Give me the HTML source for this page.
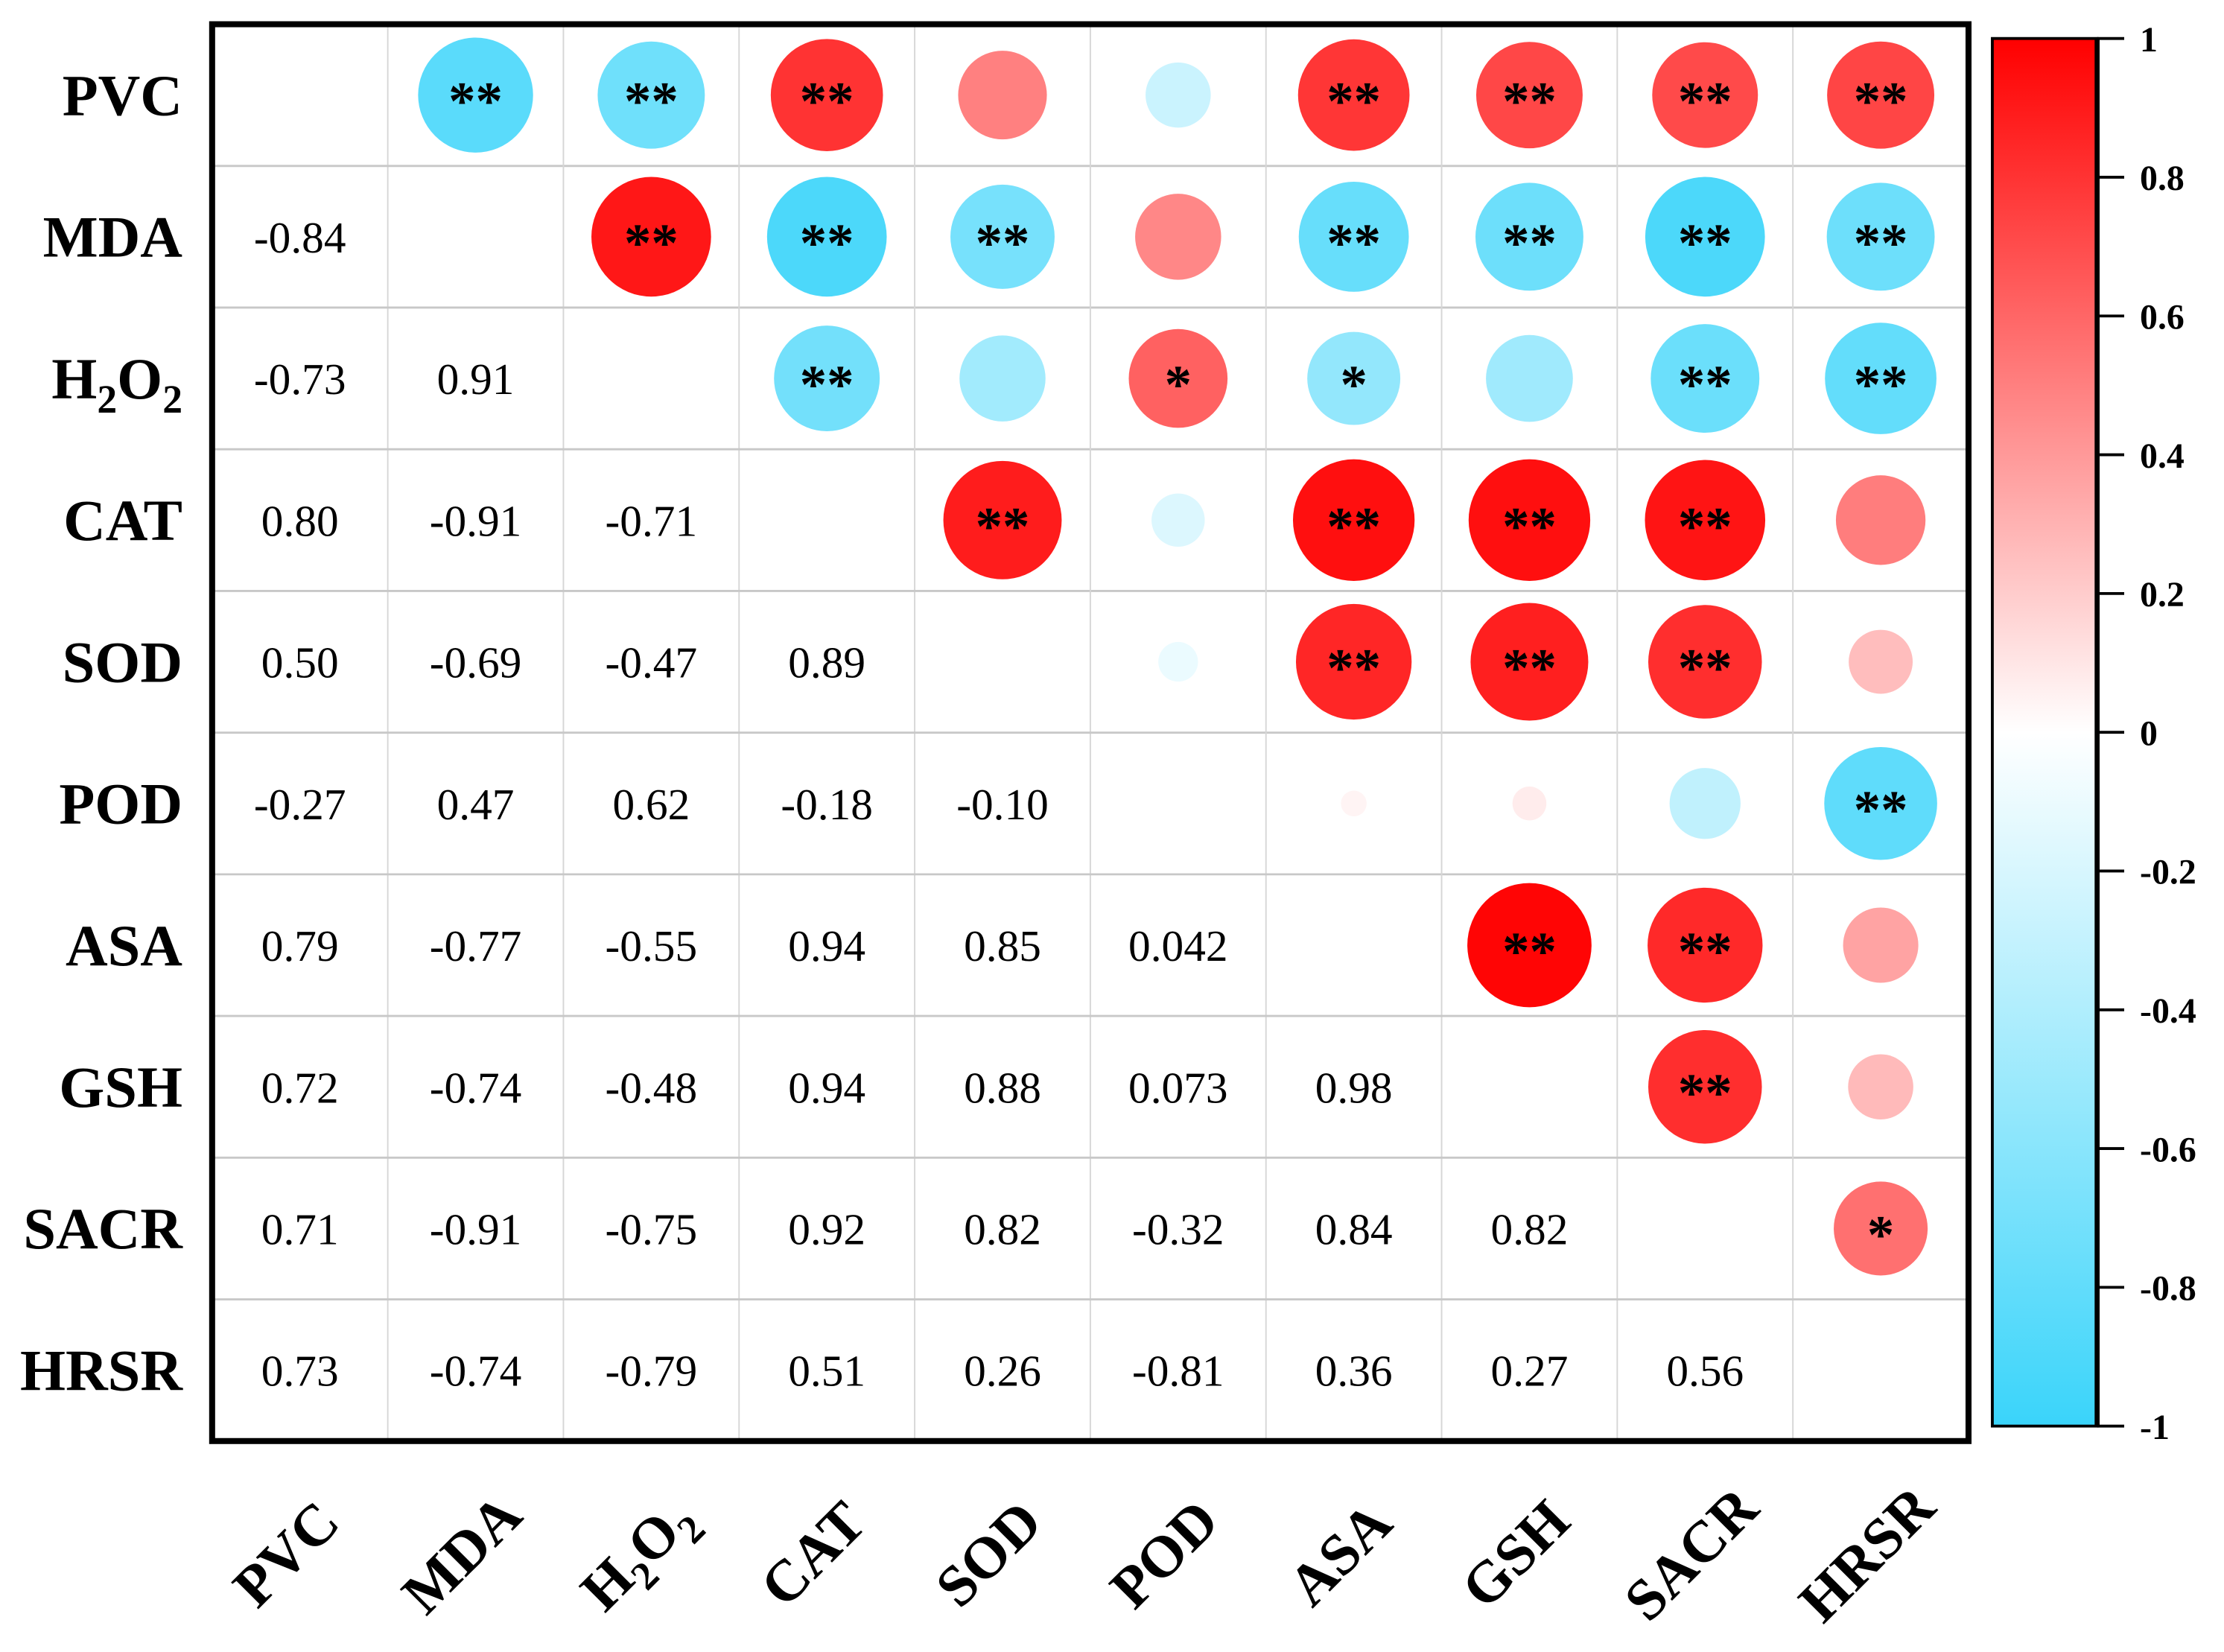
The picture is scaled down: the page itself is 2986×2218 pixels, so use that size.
<!DOCTYPE html>
<html><head><meta charset="utf-8"><style>
html,body{margin:0;padding:0;background:#fff;}
svg{display:block;}
text{font-family:"Liberation Serif",serif;}
</style></head><body>
<svg id="chart" width="2986" height="2218" viewBox="0 0 1560 1159" preserveAspectRatio="none" xmlns="http://www.w3.org/2000/svg">
<defs>
<linearGradient id="cbgrad" x1="0" y1="0" x2="0" y2="1">
<stop offset="0" stop-color="#ff0000"/>
<stop offset="0.5" stop-color="#ffffff"/>
<stop offset="1" stop-color="#3ad4fa"/>
</linearGradient>
</defs>
<g id="grid"></g>
<g id="marks"></g>
<g id="labels"></g>
<rect x="148.8" y="17" width="1232" height="994" fill="none" stroke="#000" stroke-width="4.2"/>
<g id="colorbar">
<rect x="1397.5" y="27" width="73.5" height="973.5" fill="url(#cbgrad)" stroke="#000" stroke-width="2"/>
<line x1="1471" y1="27" x2="1471" y2="1000.5" stroke="#000" stroke-width="3.5"/>
</g>
</svg>
<script>
const labels = ["PVC","MDA","H2O2","CAT","SOD","POD","ASA","GSH","SACR","HRSR"];
const lowerValues = [
  [],
  [-0.84],
  [-0.73, 0.91],
  [0.80, -0.91, -0.71],
  [0.50, -0.69, -0.47, 0.89],
  [-0.27, 0.47, 0.62, -0.18, -0.10],
  [0.79, -0.77, -0.55, 0.94, 0.85, 0.042],
  [0.72, -0.74, -0.48, 0.94, 0.88, 0.073, 0.98],
  [0.71, -0.91, -0.75, 0.92, 0.82, -0.32, 0.84, 0.82],
  [0.73, -0.74, -0.79, 0.51, 0.26, -0.81, 0.36, 0.27, 0.56]
];
const valueText = [
  [],
  ["-0.84"],
  ["-0.73","0.91"],
  ["0.80","-0.91","-0.71"],
  ["0.50","-0.69","-0.47","0.89"],
  ["-0.27","0.47","0.62","-0.18","-0.10"],
  ["0.79","-0.77","-0.55","0.94","0.85","0.042"],
  ["0.72","-0.74","-0.48","0.94","0.88","0.073","0.98"],
  ["0.71","-0.91","-0.75","0.92","0.82","-0.32","0.84","0.82"],
  ["0.73","-0.74","-0.79","0.51","0.26","-0.81","0.36","0.27","0.56"]
];
const significance = [
  [],
  ["**"],
  ["**","**"],
  ["**","**","**"],
  ["","**","","**"],
  ["","","*","",""],
  ["**","**","*","**","**",""],
  ["**","**","","**","**","","**"],
  ["**","**","**","**","**","","**","**"],
  ["**","**","**","","","**","","","*"]
];
const cbTicks = [1,0.8,0.6,0.4,0.2,0,-0.2,-0.4,-0.6,-0.8,-1];
const cbTickLabels = ["1","0.8","0.6","0.4","0.2","0","-0.2","-0.4","-0.6","-0.8","-1"];

const NS="http://www.w3.org/2000/svg";
const X0=148.8,Y0=17,CW=123.2,RH=99.4,RMAX=44;
const cx=j=>X0+CW*(j+0.5), cy=i=>Y0+RH*(i+0.5);
const rScale=v=>RMAX*Math.sqrt(Math.abs(v));
const cbY=v=>27+(1-v)/2*973.5;
function color(v){
  const t=Math.max(-1,Math.min(1,v));
  let a=[255,255,255],b,f;
  if(t>=0){b=[255,0,0];f=t;}else{b=[58,212,250];f=-t;}
  const c=a.map((x,k)=>Math.round(x+(b[k]-x)*f));
  return `rgb(${c[0]},${c[1]},${c[2]})`;
}
function mk(tag,attrs,parent){const e=document.createElementNS(NS,tag);for(const k in attrs)e.setAttribute(k,attrs[k]);parent.appendChild(e);return e;}
const grid=document.getElementById('grid'),marks=document.getElementById('marks'),lab=document.getElementById('labels'),cb=document.getElementById('colorbar');
for(let k=1;k<10;k++){
  let l=mk('line',{x1:X0+CW*k,y1:Y0,x2:X0+CW*k,y2:Y0+RH*10,stroke:'#d6d6d6','stroke-width':1},grid);
  
  
  let h=mk('line',{x1:X0,y1:Y0+RH*k,x2:X0+CW*10,y2:Y0+RH*k,stroke:'#c8c8c8','stroke-width':1.5},grid);
  
  
}
for(let i=0;i<10;i++){
  for(let j=0;j<i;j++){
    const v=lowerValues[i][j];
    const t=mk('text',{x:cx(j),y:cy(i)+11,'text-anchor':'middle','font-size':31},marks);
    t.textContent=valueText[i][j];
    
    
    const c=mk('circle',{cx:cx(i),cy:cy(j),r:rScale(v),fill:color(v)},marks);
    
    
    const s=significance[i][j];
    if(s){
      const st=mk('text',{x:cx(i),y:cy(j)+17,'text-anchor':'middle','font-size':38,'font-weight':'bold'},marks);
      st.textContent=s;
      
      
    }
  }
}
function labelText(el,name){
  if(name==="H2O2"){
    el.appendChild(document.createTextNode("H"));
    let a=mk('tspan',{'font-size':28,dy:10},el);a.textContent="2";
    let b=mk('tspan',{dy:-10},el);b.textContent="O";
    let c=mk('tspan',{'font-size':28,dy:10},el);c.textContent="2";
  } else el.textContent=name;
}
for(let i=0;i<10;i++){
  const t=mk('text',{x:128,y:cy(i)+14,'text-anchor':'end','font-size':41,'font-weight':'bold'},lab);
  labelText(t,labels[i]);
  
  
  const px=cx(i)-10,py=1090;
  const c=mk('text',{x:px,y:py+14,'text-anchor':'middle','font-size':41,'font-weight':'bold',transform:`rotate(-45 ${px} ${py})`},lab);
  labelText(c,labels[i]);
  
  
}
cbTicks.forEach((v,k)=>{
  const y=cbY(v);
  const l=mk('line',{x1:1471,y1:y,x2:1490,y2:y,stroke:'#000','stroke-width':2},cb);
  
  
  const t=mk('text',{x:1501,y:y+9,'font-size':25,'font-weight':'bold'},cb);
  t.textContent=cbTickLabels[k];
  
  
});
</script>
</body></html>
